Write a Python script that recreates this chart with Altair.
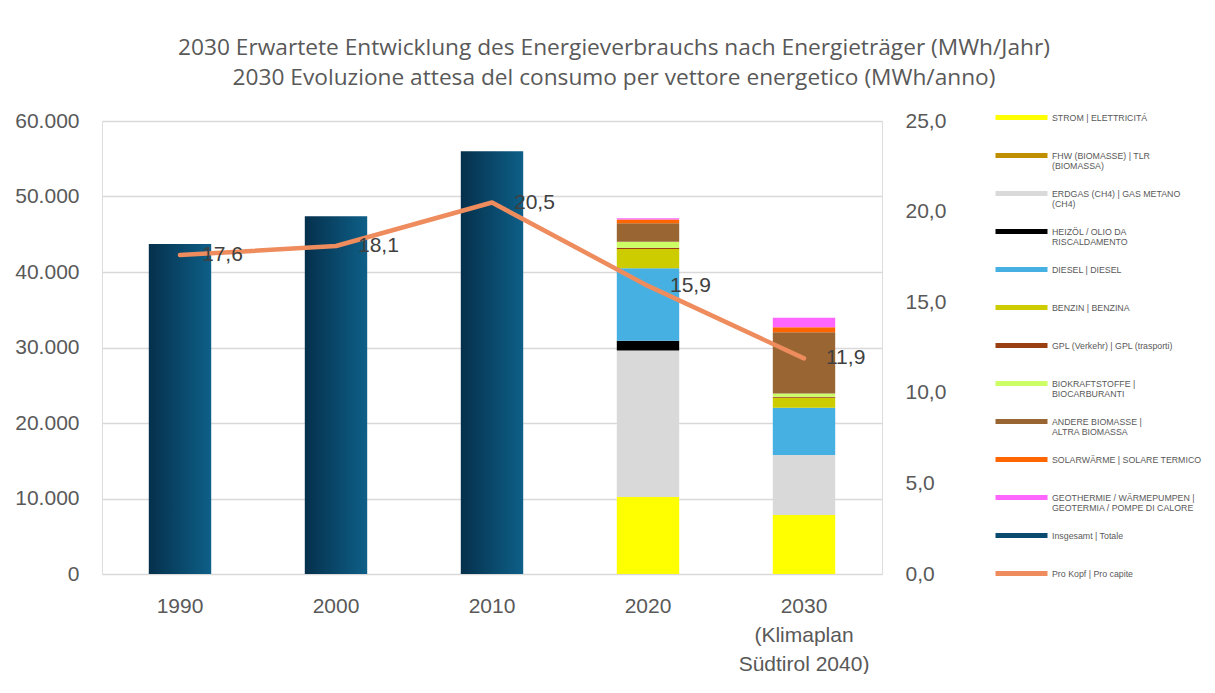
import altair as alt
import pandas as pd

# ---------------- data ----------------
years = ["1990", "2000", "2010", "2020", "2030"]
total_years = ["1990", "2000", "2010"]
total_values = [43700, 47400, 56000]
per_capita = [17.6, 18.1, 20.5, 15.9, 11.9]

sources = [
    "STROM | ELETTRICITÁ",
    "FHW (BIOMASSE) | TLR\n(BIOMASSA)",
    "ERDGAS (CH4) | GAS METANO\n(CH4)",
    "HEIZÖL / OLIO DA\nRISCALDAMENTO",
    "DIESEL | DIESEL",
    "BENZIN | BENZINA",
    "GPL (Verkehr) | GPL (trasporti)",
    "BIOKRAFTSTOFFE |\nBIOCARBURANTI",
    "ANDERE BIOMASSE |\nALTRA BIOMASSA",
    "SOLARWÄRME | SOLARE TERMICO",
    "GEOTHERMIE / WÄRMEPUMPEN |\nGEOTERMIA /  POMPE DI CALORE",
]
values_2020 = [10200, 0, 19400, 1300, 9600, 2550, 170, 800, 2430, 490, 180]
values_2030 = [7800, 0, 7950, 0, 6270, 1320, 130, 440, 8120, 660, 1240]
source_colors = ["#FFFF00", "#BF8F00", "#D9D9D9", "#000000", "#45B0E1", "#CCCC00",
                 "#9A3F12", "#CCFF66", "#996633", "#FF6600", "#FF66FF"]
extra_legend = ["Insgesamt | Totale", "Pro Kopf | Pro capite"]
extra_colors = ["#0A4A6E", "#EE8C5E"]

title_lines = [
    "2030 Erwartete Entwicklung des Energieverbrauchs nach Energieträger (MWh/Jahr)",
    "2030 Evoluzione attesa del consumo per vettore energetico (MWh/anno)",
]

# ---------------- tables ----------------
totals_df = pd.DataFrame({"year": total_years, "value": total_values})
rows = []
for i, s in enumerate(sources):
    rows.append({"year": "2020", "source": s, "value": values_2020[i], "order": i})
    rows.append({"year": "2030", "source": s, "value": values_2030[i], "order": i})
stack_df = pd.DataFrame(rows)
pc_df = pd.DataFrame({"year": years, "pc": per_capita})

FONT = "Liberation Sans"
GREY = "#595959"

x_scale = alt.Scale(domain=years, paddingInner=0.6, paddingOuter=0.3)
x_axis = alt.Axis(
    title=None, labelAngle=0, domain=False, ticks=False, grid=False,
    labelFontSize=21, labelColor=GREY, labelFont=FONT, labelPadding=21,
    labelLineHeight=29, labelBaseline="top",
    labelExpr="datum.value == '2030' ? ['2030', '(Klimaplan', 'Südtirol 2040)'] : datum.value",
)

left_scale = alt.Scale(domain=[0, 60000], nice=False)
left_axis = alt.Axis(
    title=None, orient="left", values=[0, 10000, 20000, 30000, 40000, 50000, 60000],
    labelExpr="replace(format(datum.value, ',.0f'), ',', '.')",
    domain=False, ticks=False, grid=True, gridColor="#D9D9D9", gridWidth=1.3,
    labelFontSize=21, labelColor=GREY, labelFont=FONT, labelPadding=23,
)

totals = alt.Chart(totals_df).mark_bar(
    color=alt.Gradient(
        gradient="linear",
        stops=[alt.GradientStop(color="#05304C", offset=0),
               alt.GradientStop(color="#0E5F88", offset=1)],
        x1=0, x2=1, y1=0, y2=0,
    )
).encode(
    x=alt.X("year:N", sort=years, scale=x_scale, axis=x_axis),
    y=alt.Y("value:Q", scale=left_scale, axis=left_axis),
)

stacked = alt.Chart(stack_df).mark_bar().encode(
    x=alt.X("year:N", sort=years, scale=x_scale, axis=x_axis),
    y=alt.Y("value:Q", scale=left_scale, axis=left_axis, stack="zero"),
    order=alt.Order("order:Q", sort="ascending"),
    color=alt.Color(
        "source:N",
        scale=alt.Scale(domain=sources + extra_legend, range=source_colors + extra_colors),
        legend=alt.Legend(
            title=None, orient="none", legendX=913, legendY=-10, direction="vertical",
            symbolType="M-4,-0.4H4V0.4H-4Z", symbolSize=169, symbolStrokeWidth=0,
            labelFontSize=8.8, labelColor=GREY, labelFont=FONT,
            labelLimit=300,
            labelExpr="split(datum.label, '\\n')", labelOffset=24,
            gridAlign="all", rowPadding=15, labelBaseline="middle",
        ),
    ),
)

right_scale = alt.Scale(domain=[0, 25], nice=False)
right_axis = alt.Axis(
    title=None, orient="right", values=[0, 5, 10, 15, 20, 25],
    labelExpr="replace(format(datum.value, '.1f'), '.', ',')",
    domain=False, ticks=False, grid=False,
    labelFontSize=21, labelColor=GREY, labelFont=FONT, labelPadding=23,
)

line = alt.Chart(pc_df).mark_line(color="#EE8C5E", strokeWidth=4.5, strokeCap="round",
                                  strokeJoin="round").encode(
    x=alt.X("year:N", sort=years, scale=x_scale, axis=x_axis),
    y=alt.Y("pc:Q", scale=right_scale, axis=right_axis),
)

labels = alt.Chart(pc_df).transform_calculate(
    lab="replace(format(datum.pc, '.1f'), '.', ',')"
).mark_text(align="left", baseline="middle", dx=22, fontSize=21, color="#404040",
            font=FONT).encode(
    x=alt.X("year:N", sort=years, scale=x_scale, axis=x_axis),
    y=alt.Y("pc:Q", scale=right_scale, axis=right_axis),
    text="lab:N",
)

chart = alt.layer(
    alt.layer(totals, stacked),
    alt.layer(line, labels),
).resolve_scale(y="independent").properties(
    width=780, height=453,
    padding={"left": 94, "top": 113, "right": 325, "bottom": 100},
    autosize=alt.AutoSizeParams(type="none"),
    title=alt.TitleParams(
        text=title_lines, anchor="middle", dx=122, dy=3, fontSize=22.7, font="Open Sans",
        fontWeight="normal", color=GREY, lineHeight=30, offset=23,
    ),
).configure_view(stroke=None).configure(background="white")

chart.save("out.html", embed_options={"renderer": "svg", "actions": False})
